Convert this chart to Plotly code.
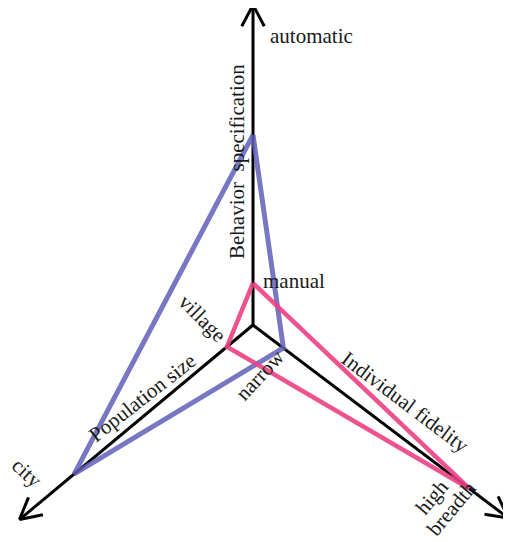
import math
import plotly.graph_objects as go

# ── Data ──────────────────────────────────────────────────────────────────────
AXES = ["Behavior specification", "Individual fidelity", "Population size"]
AXIS_ANGLE = [90.0, -37.1, 219.8]        # direction of each axis (deg)
AXIS_LEN = [1.0, 1.0, 0.95]              # arrow length relative to unit
LOW_LABELS = ["manual", "narrow", "village"]
HIGH_LABELS = ["automatic", "high\nbreadth", "city"]

BLUE_VALUES = [0.594, 0.119, 0.727]
PINK_VALUES = [0.131, 0.847, 0.106]

# ── Geometry / style ──────────────────────────────────────────────────────────
W, H = 511, 542
OFF = 8                                  # page body margin
CX, CY = 253, 325
UNIT = 320
FONT = dict(family="Liberation Serif, Times New Roman, serif", size=21, color="#1a1a1a")
BLUE = "rgba(95,95,185,0.85)"
PINK = "rgba(236,64,132,0.9)"


def pt(i, v):
    a = math.radians(AXIS_ANGLE[i])
    return CX + v * UNIT * math.cos(a), CY - v * UNIT * math.sin(a)


fig = go.Figure()

# axes with open arrowheads
for i in range(3):
    tx, ty = pt(i, AXIS_LEN[i])
    fig.add_trace(go.Scatter(x=[CX, tx], y=[CY, ty], mode="lines",
                             line=dict(color="black", width=3), hoverinfo="skip"))
    a = math.radians(AXIS_ANGLE[i])
    hx, hy = [], []
    for s in (1, -1):
        b = a + math.pi + s * math.radians(28)
        hx += [tx + 24 * math.cos(b), tx, None]
        hy += [ty - 24 * math.sin(b), ty, None]
    fig.add_trace(go.Scatter(x=hx, y=hy, mode="lines",
                             line=dict(color="black", width=3), hoverinfo="skip"))

# polygons
for vals, col, w in [(BLUE_VALUES, BLUE, 5), (PINK_VALUES, PINK, 4.5)]:
    xs, ys = zip(*[pt(i, v) for i, v in enumerate(vals)])
    fig.add_trace(go.Scatter(x=list(xs) + [xs[0]], y=list(ys) + [ys[0]], mode="lines",
                             line=dict(color=col, width=w), hoverinfo="skip"))

# labels
labels = [
    (HIGH_LABELS[0], 311, 36, 0),
    ("Behavior  specification", 237, 162, -90),
    (LOW_LABELS[0], 294, 281, 0),
    (LOW_LABELS[2], 202, 318, 45),
    (LOW_LABELS[1], 260, 375, -47),
    ("Population size", 142, 398, -38),
    (HIGH_LABELS[2], 27, 473, 43),
    ("Individual fidelity", 405, 402, 37),
    ("high", 432, 497, -50),
    ("breadth", 451, 509, -50),
]
for txt, x, y, ang in labels:
    fig.add_annotation(x=x, y=y, text=txt, textangle=ang, showarrow=False,
                       font=FONT, xanchor="center", yanchor="middle")

fig.update_layout(
    width=W - OFF, height=H - OFF,
    margin=dict(l=0, r=0, t=0, b=0),
    paper_bgcolor="white", plot_bgcolor="white",
    showlegend=False,
    xaxis=dict(range=[OFF, W], visible=False, fixedrange=True),
    yaxis=dict(range=[H, OFF], visible=False, fixedrange=True),
)
fig.write_html("out.html")
